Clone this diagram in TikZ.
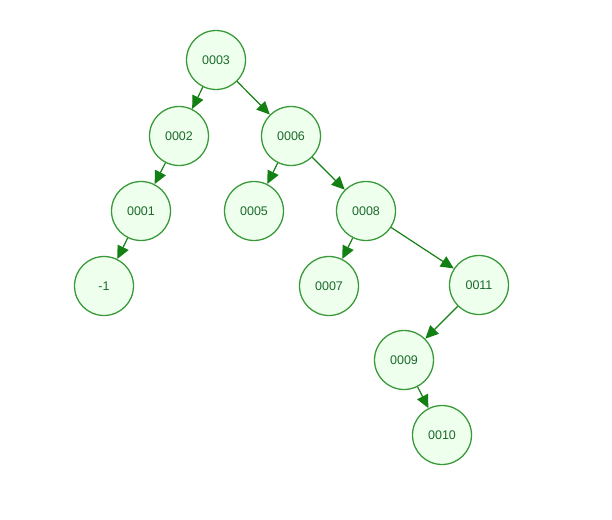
\documentclass[tikz,border=0pt]{standalone}
\usepackage{fontspec}
\setmainfont{Liberation Sans}
\usetikzlibrary{arrows.meta}
\definecolor{nodefill}{HTML}{EEFFEE}
\definecolor{nodeline}{HTML}{3A9A3A}
\definecolor{edgecol}{HTML}{138013}
\definecolor{txtcol}{HTML}{1A6A2A}
\begin{document}
\begin{tikzpicture}[x=1pt,y=-1pt,
  tnode/.style={circle,draw=nodeline,fill=nodefill,line width=1.3pt,minimum size=59pt,inner sep=0pt,
    text=txtcol,font=\fontsize{12.5}{14}\selectfont},
  tedge/.style={draw=edgecol,line width=1.2pt,-{Triangle[length=13pt,width=12pt]}}]
\useasboundingbox (0,0) rectangle (612,519);
\node[tnode] (n3) at (216,60) {0003};
\node[tnode] (n2) at (179,136) {0002};
\node[tnode] (n6) at (291,136) {0006};
\node[tnode] (n1) at (141,211) {0001};
\node[tnode] (n5) at (254,211) {0005};
\node[tnode] (n8) at (366,211) {0008};
\node[tnode] (nm1) at (104,286) {-1};
\node[tnode] (n7) at (329,286) {0007};
\node[tnode] (n11) at (479,285) {0011};
\node[tnode] (n9) at (404,360) {0009};
\node[tnode] (n10) at (442,435) {0010};
\draw[tedge] (n3) -- (n2);
\draw[tedge] (n3) -- (n6);
\draw[tedge] (n2) -- (n1);
\draw[tedge] (n1) -- (nm1);
\draw[tedge] (n6) -- (n5);
\draw[tedge] (n6) -- (n8);
\draw[tedge] (n8) -- (n7);
\draw[tedge] (n8) -- (n11);
\draw[tedge] (n11) -- (n9);
\draw[tedge] (n9) -- (n10);
\end{tikzpicture}
\end{document}
